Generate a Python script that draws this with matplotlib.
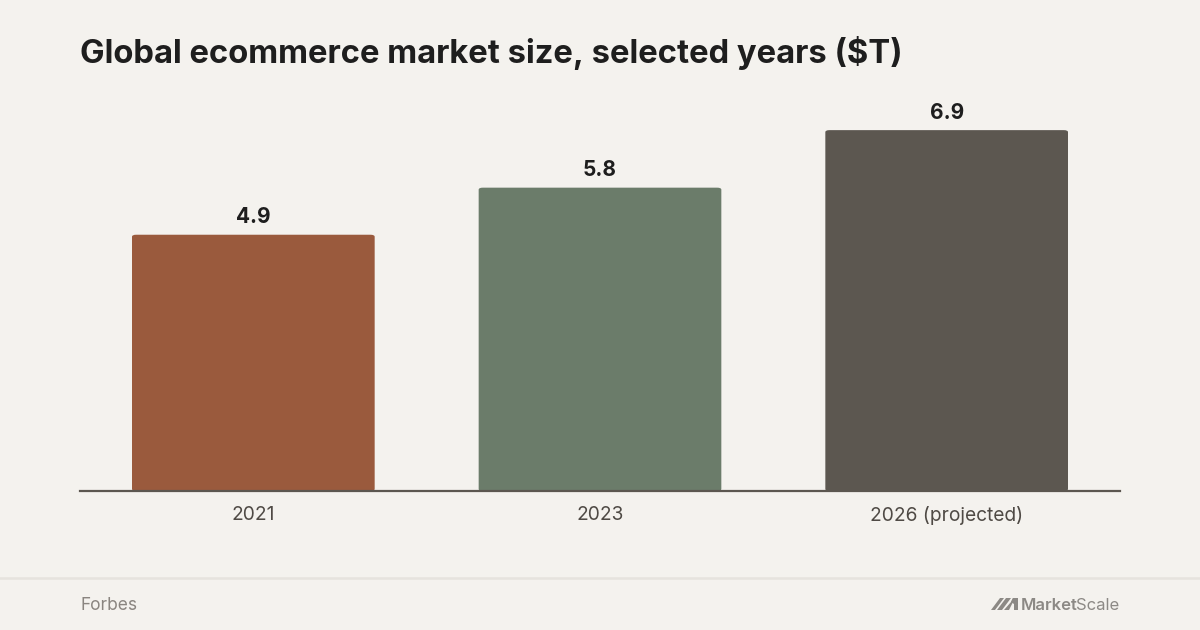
import matplotlib
matplotlib.use('Agg')
import matplotlib.pyplot as plt
from matplotlib.patches import FancyBboxPatch, Polygon

# data
years = ['2021', '2023', '2026 (projected)']
market_size = [4.9, 5.8, 6.9]
bar_colors = ['#9A5A3D', '#6B7C6A', '#5C5750']

title = 'Global ecommerce market size, selected years ($T)'
source = 'Forbes'

BG = '#F4F2EE'
W, H = 1200, 630

plt.rcParams['font.family'] = ['Inter', 'DejaVu Sans']

fig = plt.figure(figsize=(W / 100, H / 100), dpi=100, facecolor=BG)


def px(x, y):
    # pixel coords (top-left origin) -> figure fraction
    return x / W, 1 - y / H


# axes: x 80..1120, baseline at y=491, top at y=100
ax = fig.add_axes([80 / W, 1 - 491 / H, 1040 / W, 391 / H])
ax.set_facecolor(BG)
ax.set_xlim(-0.5, 2.5)
ax.set_ylim(0, 391 / 52.3)

bar_w = 0.7
for i, (v, c) in enumerate(zip(market_size, bar_colors)):
    patch = FancyBboxPatch((i - bar_w / 2, 0), bar_w, v,
                           boxstyle='round,pad=0,rounding_size=0.012',
                           mutation_aspect=3.2,
                           facecolor=c, edgecolor='none', zorder=2)
    ax.add_patch(patch)
    ax.text(i, v + 0.14, f'{v:.1f}', ha='center', va='bottom',
            fontsize=15, fontweight='bold', color='#1E1E1E')

for s in ['top', 'right', 'left']:
    ax.spines[s].set_visible(False)
ax.spines['bottom'].set_color('#5C5750')
ax.spines['bottom'].set_linewidth(1.6)
ax.spines['bottom'].set_zorder(3)
ax.set_yticks([])
ax.set_xticks(range(len(years)))
ax.set_xticklabels(years, fontsize=13.8, color='#4F4A45')
ax.tick_params(axis='x', length=0, pad=11)

# title
fig.text(*px(80, 63), title, fontsize=23.6, fontweight='bold',
         color='#1E1E1E', ha='left', va='baseline')

# footer separator
fig.add_artist(plt.Line2D([0, 1], [1 - 578 / H] * 2, color='#E6E3DE',
                          linewidth=1.8, transform=fig.transFigure))

fig.text(*px(80, 610), source, fontsize=12.5, color='#8A8580',
         ha='left', va='baseline')

# logo text
logo_color = '#8C8985'
t_scale = fig.text(*px(1119, 610), 'Scale', fontsize=12, color=logo_color,
                   ha='right', va='baseline')
r = fig.canvas.get_renderer()
bb = t_scale.get_window_extent(r)
fig.text(bb.x0 / W + 0.0012, 1 - 610 / H, 'Market', fontsize=12,
         fontweight='semibold', color=logo_color, ha='right', va='baseline')

# logo mark: slanted strokes
marks = [
    [(991, 610), (995, 610), (1004, 598), (1000, 598)],
    [(997, 610), (1002, 610), (1011, 598), (1006, 598)],
    [(1004, 610), (1009, 610), (1015, 598), (1013, 598), (1011, 602)],
    [(1011, 602), (1013, 598), (1018, 598), (1018, 610), (1014, 610), (1014, 604)],
]
for m in marks:
    fig.add_artist(Polygon([px(x, y) for x, y in m], closed=True,
                           transform=fig.transFigure, facecolor=logo_color,
                           edgecolor='none'))

fig.savefig('out.png', dpi=100, facecolor=BG)
